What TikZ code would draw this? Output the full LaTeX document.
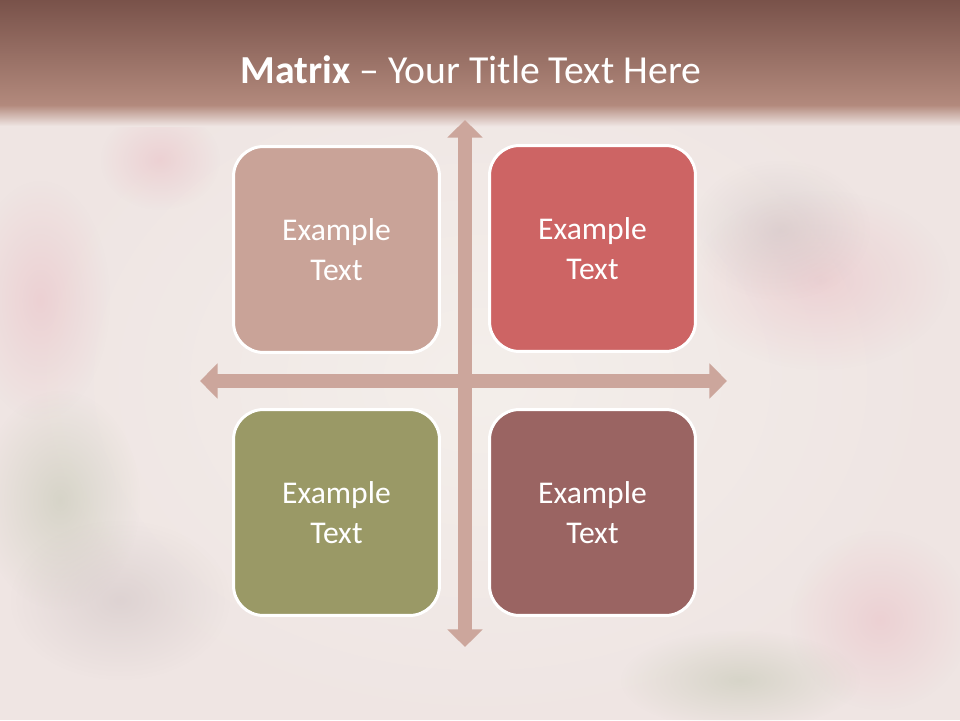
\documentclass[tikz,border=0pt]{standalone}
\usepackage{fontspec}
\setmainfont{Carlito}
\usetikzlibrary{arrows.meta,fadings}
\definecolor{bgbase}{HTML}{EFE5E3}
\definecolor{bglight}{HTML}{F4EFEB}
\definecolor{hdtop}{HTML}{79524A}
\definecolor{hdbot}{HTML}{B38A7D}
\definecolor{arrowc}{HTML}{CCA69C}
\definecolor{boxtl}{HTML}{C9A398}
\definecolor{boxtr}{HTML}{CD6464}
\definecolor{boxbl}{HTML}{9A9966}
\definecolor{boxbr}{HTML}{9A6462}
\definecolor{blobpink}{HTML}{E9B8C0}
\definecolor{blobgreen}{HTML}{B9C0A8}
\definecolor{blobgray}{HTML}{C9BDBE}
\tikzfading[name=softblob, inner color=transparent!0, outer color=transparent!100]
\tikzset{
  quad/.style={draw=white, line width=1.7pt, rounded corners=0.6cm,
    minimum width=4.12cm, minimum height=4.12cm, inner sep=0pt,
    text=white, font=\fontsize{18}{23}\selectfont, align=center},
  axisarrow/.style={draw=arrowc, line width=8.5pt,
    {Triangle[width=19.5pt,length=10pt]}-{Triangle[width=19.5pt,length=10pt]}},
  blob/.style={opacity=0.45, path fading=softblob}
}
\begin{document}
\begin{tikzpicture}[x=0.02cm,y=-0.02cm]
\useasboundingbox (0,0) rectangle (960,720);
% background
\fill[bgbase] (0,0) rectangle (960,720);
\fill[bglight, path fading=softblob] (480,380) ellipse (480 and 360);
\fill[blob, blobpink] (820,280) ellipse (130 and 90);
\fill[blob, blobgray] (780,230) ellipse (90 and 70);
\fill[blob, blobgreen] (60,500) ellipse (80 and 110);
\fill[blob, blobpink] (40,300) ellipse (70 and 120);
\fill[blob, blobgray] (120,600) ellipse (110 and 80);
\fill[blob, blobpink] (880,620) ellipse (90 and 90);
\fill[blob, blobgreen] (740,680) ellipse (120 and 50);
\fill[blob, blobpink] (160,160) ellipse (60 and 50);
% header
\shade[top color=hdtop, bottom color=hdbot] (0,0) rectangle (960,106);
\shade[top color=hdbot, bottom color=bgbase] (0,105) rectangle (960,126);
\node (title) at (471,70) {\fontsize{22.6}{27}\selectfont\color{white}\textbf{Matrix} -- Your Title Text Here};
% axes
\coordinate (vtop) at (465,120);
\coordinate (vbot) at (465,647);
\coordinate (hleft) at (200,381);
\coordinate (hright) at (727,381);
\draw[axisarrow] (vtop) -- (vbot);
\draw[axisarrow] (hleft) -- (hright);
% quadrants
\node[quad, fill=boxtl] (tl) at (336.5,249.5) {Example\\Text};
\node[quad, fill=boxtr] (tr) at (592.5,248.5) {Example\\Text};
\node[quad, fill=boxbl] (bl) at (336.5,512.5) {Example\\Text};
\node[quad, fill=boxbr] (br) at (592.5,512.5) {Example\\Text};
\end{tikzpicture}
\end{document}
